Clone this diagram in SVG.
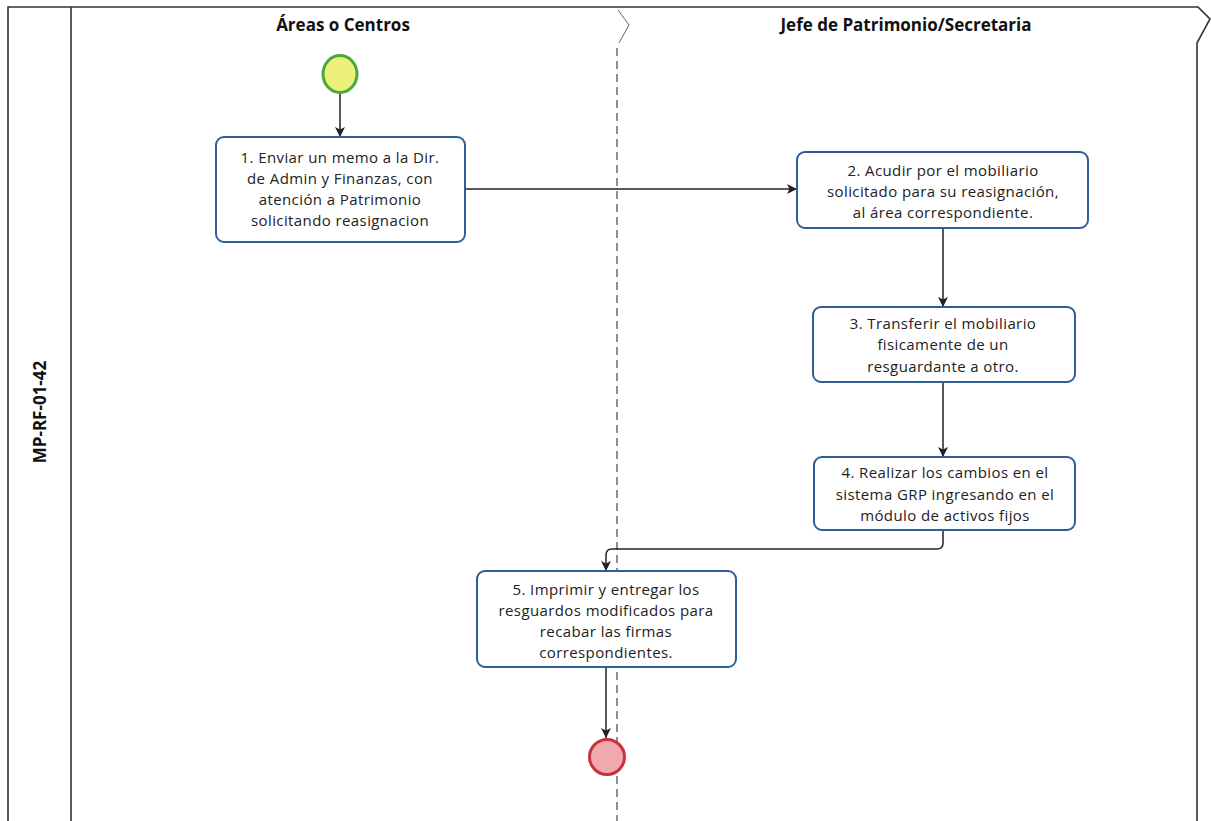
<svg xmlns="http://www.w3.org/2000/svg" width="1211" height="821" viewBox="0 0 1211 821">
  <defs>
    <marker id="arrow" viewBox="0 0 10 10" refX="10" refY="5" markerWidth="10" markerHeight="10" markerUnits="userSpaceOnUse" orient="auto">
      <path d="M0,0 L10,5 L0,10 L2.5,5 Z" fill="#222"/>
    </marker>
    <style>
      .frame { fill: none; stroke: #333; stroke-width: 1.6; }
      .lane-sep { fill: none; stroke: #444; stroke-width: 1.2; stroke-dasharray: 8 5; }
      .title { font-family: "Open Sans", "Liberation Sans", sans-serif; font-weight: bold; font-size: 17px; fill: #111; text-anchor: middle; }
      .task rect { fill: #fff; stroke: #2c5f95; stroke-width: 2; }
      .task text { font-family: "Open Sans", "Liberation Sans", sans-serif; font-size: 15px; letter-spacing: 0.4px; fill: #222; text-anchor: middle; }
      .conn { fill: none; stroke: #222; stroke-width: 1.5; marker-end: url(#arrow); }
    </style>
  </defs>

  <rect width="1211" height="821" fill="#fff"/>

  <!-- pool frame -->
  <g id="pool">
    <path class="frame" d="M8,821 L8,7 L1198,7 L1210,19 L1197,43 L1197,821"/>
    <line class="frame" x1="71" y1="7" x2="71" y2="821"/>
    <text class="title" transform="translate(46,412) rotate(-90)">MP-RF-01-42</text>
  </g>

  <!-- lanes -->
  <g id="lane-areas">
    <text class="title" x="343" y="31">Áreas o Centros</text>
  </g>
  <g id="lane-patrimonio">
    <text class="title" x="906" y="31">Jefe de Patrimonio/Secretaria</text>
  </g>
  <g id="lane-divider">
    <path fill="none" stroke="#666" stroke-width="1" d="M618,10 L629,25 L619,43"/>
    <line class="lane-sep" x1="617" y1="48" x2="617" y2="821"/>
  </g>

  <!-- connectors -->
  <g id="connectors">
    <line class="conn" x1="340" y1="93" x2="340" y2="137"/>
    <line class="conn" x1="465" y1="189" x2="797" y2="189"/>
    <line class="conn" x1="943" y1="228" x2="943" y2="307"/>
    <line class="conn" x1="943" y1="382" x2="943" y2="457"/>
    <path class="conn" d="M943,530 L943,543 Q943,549 937,549 L612,549 Q606,549 606,555 L606,571"/>
    <line class="conn" x1="606" y1="667" x2="606" y2="738"/>
  </g>

  <!-- start event -->
  <g id="start">
    <ellipse cx="340" cy="74" rx="17" ry="18.5" fill="#eef07a" stroke="#4aa83c" stroke-width="3"/>
  </g>

  <g id="task1" class="task">
    <rect x="216" y="137" width="249" height="105" rx="8"/>
    <text x="340" y="163">1. Enviar un memo a la Dir.</text>
    <text x="340" y="184">de Admin y Finanzas, con</text>
    <text x="340" y="205">atención a Patrimonio</text>
    <text x="340" y="226">solicitando reasignacion</text>
  </g>

  <g id="task2" class="task">
    <rect x="797" y="152" width="291" height="76" rx="8"/>
    <text x="943" y="176">2. Acudir por el mobiliario</text>
    <text x="943" y="197">solicitado para su reasignación,</text>
    <text x="943" y="218">al área correspondiente.</text>
  </g>

  <g id="task3" class="task">
    <rect x="813" y="307" width="262" height="75" rx="8"/>
    <text x="943" y="329">3. Transferir el mobiliario</text>
    <text x="943" y="350">fisicamente de un</text>
    <text x="943" y="372">resguardante a otro.</text>
  </g>

  <g id="task4" class="task">
    <rect x="814" y="457" width="261" height="73" rx="8"/>
    <text x="945" y="478">4. Realizar los cambios en el</text>
    <text x="945" y="500">sistema GRP ingresando en el</text>
    <text x="945" y="521">módulo de activos fijos</text>
  </g>

  <g id="task5" class="task">
    <rect x="477" y="571" width="259" height="96" rx="8"/>
    <text x="606" y="595">5. Imprimir y entregar los</text>
    <text x="606" y="616">resguardos modificados para</text>
    <text x="606" y="637">recabar las firmas</text>
    <text x="606" y="658">correspondientes.</text>
  </g>

  <!-- end event -->
  <g id="end">
    <circle cx="607" cy="757" r="17.5" fill="#f2a9ae" stroke="#c8323c" stroke-width="3"/>
  </g>
</svg>
